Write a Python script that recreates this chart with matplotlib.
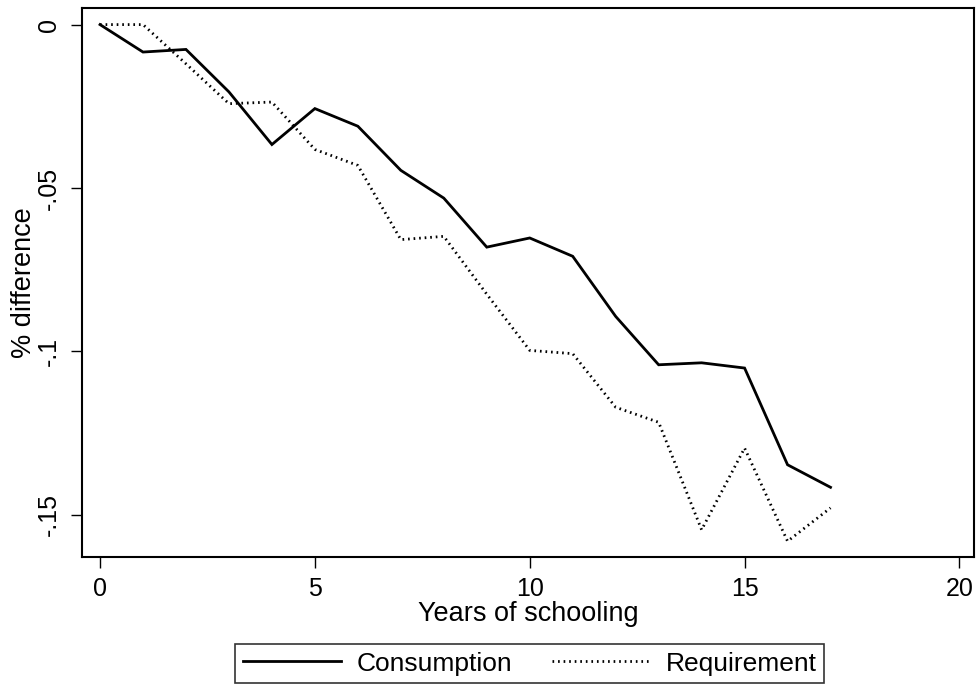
import matplotlib
matplotlib.use("Agg")
import matplotlib.pyplot as plt
from matplotlib.lines import Line2D

plt.rcParams['font.family'] = ['Liberation Sans', 'DejaVu Sans']

years = list(range(18))
consumption = [0.0, -0.0084, -0.0076, -0.0206, -0.0367, -0.0257, -0.0311, -0.0446,
               -0.0531, -0.0681, -0.0653, -0.0709, -0.0893, -0.1041, -0.1035,
               -0.1051, -0.1347, -0.1416]
requirement = [0.0, 0.0, -0.012, -0.0242, -0.0237, -0.0382, -0.0431, -0.0658,
               -0.0648, -0.0825, -0.0997, -0.1007, -0.1171, -0.1217, -0.1546,
               -0.1296, -0.1581, -0.1479]

x_ticks = [0, 5, 10, 15, 20]
y_ticks = [0, -0.05, -0.1, -0.15]
y_tick_labels = ["0", "-.05", "-.1", "-.15"]

fig = plt.figure(figsize=(9.76, 6.88), dpi=100)
ax = fig.add_axes([0.084, 0.191, 0.914, 0.797])

ax.plot(years, consumption, color='black', lw=2.0, solid_joinstyle='miter',
        label='Consumption')
ax.plot(years, requirement, color='black', lw=2.0, linestyle=(0, (0.6, 1.4)),
        label='Requirement')

ax.set_xlim(-0.42, 20.34)
ax.set_ylim(-0.1628, 0.005)

ax.set_xticks(x_ticks)
ax.set_xticklabels([str(t) for t in x_ticks])
ax.set_yticks(y_ticks)
ax.set_yticklabels(y_tick_labels, rotation=90, va='center')

ax.tick_params(axis='both', direction='out', length=8, width=1.0,
               labelsize=18, colors='black')
ax.tick_params(axis='x', pad=7)
ax.tick_params(axis='y', pad=7)

for side in ['left', 'bottom', 'top', 'right']:
    ax.spines[side].set_linewidth(1.5)
    ax.spines[side].set_color('black')

ax.set_xlabel('Years of schooling', fontsize=19.5, labelpad=0)
ax.set_ylabel('% difference', fontsize=19.5, labelpad=0)

handles = [Line2D([], [], color='black', lw=2.0),
           Line2D([], [], color='black', lw=2.0, linestyle=(0, (0.6, 1.4)))]
leg = fig.legend(handles, ['Consumption', 'Requirement'], loc='center',
                 bbox_to_anchor=(0.543, 0.0356), ncol=2, fontsize=19,
                 frameon=True, fancybox=False, edgecolor='black',
                 handlelength=3.7, handletextpad=0.6, columnspacing=1.5,
                 borderpad=0.3, borderaxespad=0)
leg.get_frame().set_linewidth(1.2)

fig.savefig('out.png', dpi=100, facecolor='white')
